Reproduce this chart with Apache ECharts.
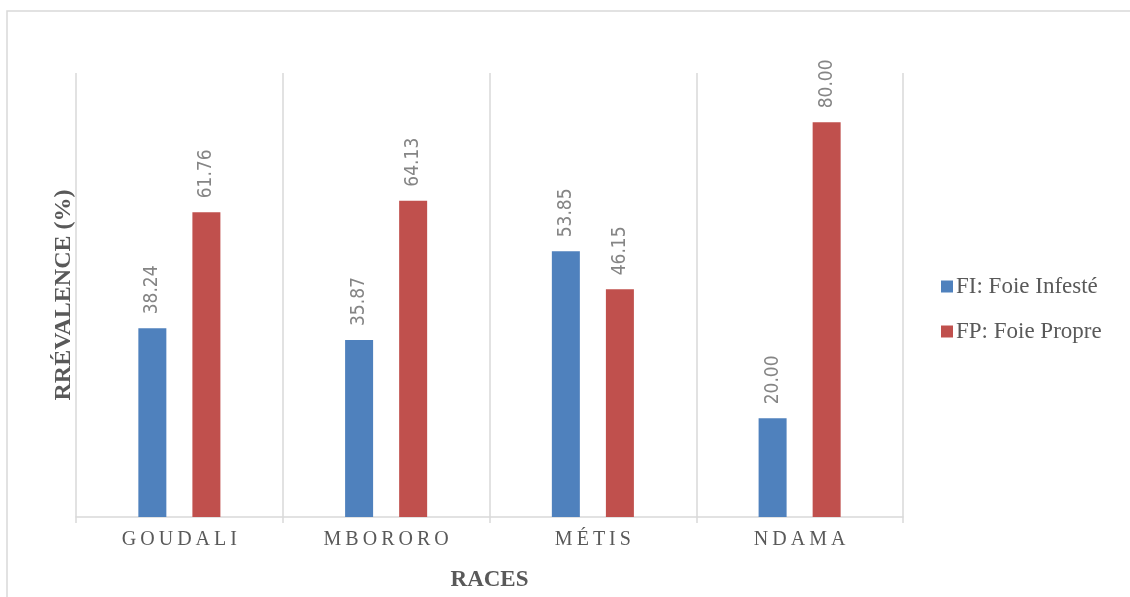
<!DOCTYPE html>
<html>
<head>
<meta charset="utf-8">
<title>Prévalence par race</title>
<script src="https://cdn.jsdelivr.net/npm/echarts@6/dist/echarts.min.js"></script>
<style>
  html, body { margin: 0; padding: 0; background: #ffffff; }
  #chart { width: 1130px; height: 597px; }
</style>
</head>
<body>
<div id="chart"></div>
<script>
// Breeds on the category axis
const races = ['GOUDALI', 'MBORORO', 'MÉTIS', 'NDAMA'];
// Infested liver share (%) per breed
const foieInfeste = [38.24, 35.87, 53.85, 20.00];
// Clean liver share (%) per breed
const foiePropre = [61.76, 64.13, 46.15, 80.00];
const seriesNames = ['FI: Foie Infesté', 'FP: Foie Propre'];

const chart = echarts.init(document.getElementById('chart'), null, { renderer: 'canvas' });

// Letter-spaced category labels
const spaced = s => s.split('').join('\u2009');

const valueLabel = {
  show: true,
  position: 'top',
  distance: 14,
  rotate: 90,
  align: 'left',
  verticalAlign: 'middle',
  color: '#858585',
  fontFamily: '"Liberation Sans Narrow", "DejaVu Sans Condensed", sans-serif',
  fontSize: 19,
  formatter: p => p.value.toFixed(2)
};

chart.setOption({
  animation: false,
  backgroundColor: '#ffffff',
  graphic: [{
    type: 'rect',
    shape: { x: 7, y: 11, width: 1140, height: 600 },
    style: { fill: 'none', stroke: '#d9d9d9', lineWidth: 1.5 },
    silent: true
  }],
  grid: { left: 76, right: 227, top: 73, bottom: 80, containLabel: false },
  legend: {
    orient: 'vertical',
    left: 936,
    top: 270,
    itemWidth: 12,
    itemHeight: 12,
    itemGap: 22,
    icon: 'rect',
    data: seriesNames,
    textStyle: {
      color: '#595959',
      fontFamily: '"Liberation Serif", "Times New Roman", serif',
      fontSize: 23,
      padding: [0, 0, 0, -2]
    }
  },
  xAxis: {
    type: 'category',
    data: races,
    name: 'RACES',
    nameLocation: 'middle',
    nameGap: 52,
    nameTextStyle: {
      color: '#595959',
      fontFamily: '"Liberation Serif", "Times New Roman", serif',
      fontWeight: 'bold',
      fontSize: 23
    },
    axisLine: { show: true, lineStyle: { color: '#d9d9d9', width: 1.5 } },
    axisTick: { show: true, length: 6, lineStyle: { color: '#d9d9d9', width: 1.5 } },
    splitLine: { show: true, lineStyle: { color: '#d9d9d9', width: 1.5 } },
    axisLabel: {
      color: '#595959',
      fontFamily: '"Liberation Serif", "Times New Roman", serif',
      fontSize: 20,
      margin: 13,
      formatter: v => spaced(v)
    }
  },
  yAxis: {
    type: 'value',
    min: 0,
    max: 90,
    name: 'RRÉVALENCE (%)',
    nameLocation: 'middle',
    nameGap: 0,
    nameTextStyle: {
      color: '#595959',
      fontFamily: '"Liberation Serif", "Times New Roman", serif',
      fontWeight: 'bold',
      fontSize: 24
    },
    axisLine: { show: false },
    axisTick: { show: false },
    axisLabel: { show: false },
    splitLine: { show: false }
  },
  series: [
    {
      name: seriesNames[0],
      type: 'bar',
      data: foieInfeste,
      barWidth: 28,
      barGap: '93%',
      itemStyle: { color: '#4f81bd' },
      label: valueLabel
    },
    {
      name: seriesNames[1],
      type: 'bar',
      data: foiePropre,
      barWidth: 28,
      barGap: '93%',
      itemStyle: { color: '#c0504d' },
      label: valueLabel
    }
  ]
});
</script>
</body>
</html>
